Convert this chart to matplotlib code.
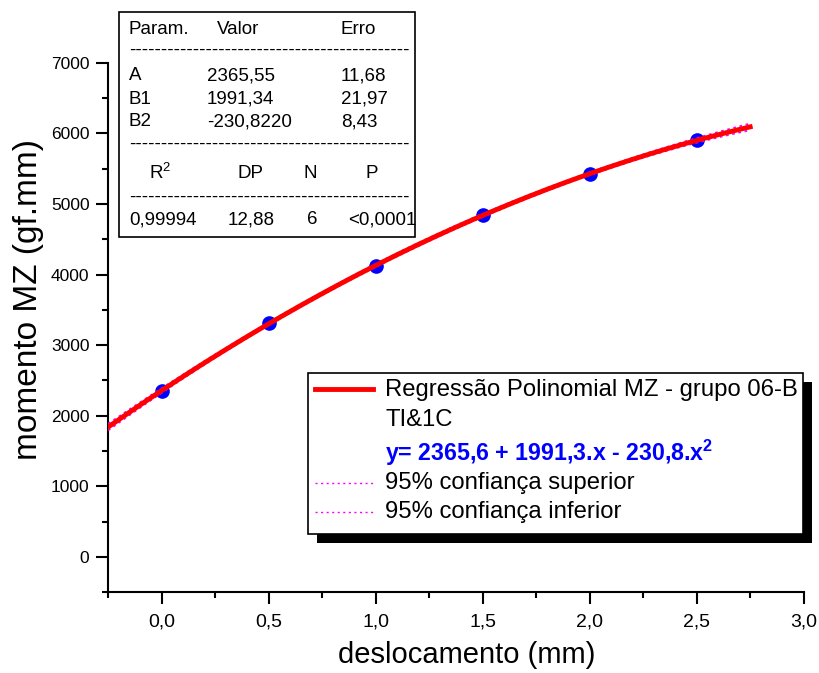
import numpy as np
import matplotlib
matplotlib.use("Agg")
import matplotlib.pyplot as plt
from matplotlib.patches import Rectangle
from matplotlib.ticker import MultipleLocator, FuncFormatter

# ---------------- data ----------------
x_data = [0.0, 0.5, 1.0, 1.5, 2.0, 2.5]
y_data = [2350, 3318, 4123, 4837, 5422, 5904]

fit_x_range = [-0.25, 2.75]

table_params = ["A", "B1", "B2"]
table_values = ["2365,55", "1991,34", "-230,8220"]
table_errors = ["11,68", "21,97", "8,43"]
stat_headers = ["R$^{2}$", "DP", "N", "P"]
stat_values = ["0,99994", "12,88", "6", "<0,0001"]

legend_fit = "Regressão Polinomial MZ - grupo 06-B"
legend_fit2 = "TI&1C"
legend_eq = r"y= 2365,6 + 1991,3.x - 230,8.x$^{\mathbf{2}}$"
legend_up = "95% confiança superior"
legend_lo = "95% confiança inferior"

x_label = "deslocamento (mm)"
y_label = "momento MZ (gf.mm)"

# ---------------- style ----------------
SANS = "Liberation Sans"
plt.rcParams["font.family"] = [SANS, "DejaVu Sans"]
plt.rcParams["mathtext.fontset"] = "custom"
plt.rcParams["mathtext.rm"] = SANS
plt.rcParams["mathtext.bf"] = SANS + ":bold"
plt.rcParams["mathtext.it"] = SANS + ":italic"

W, H = 819, 673
fig = plt.figure(figsize=(W / 100, H / 100), dpi=100)

def fx(px):
    return px / W

def fy(py):
    return 1 - py / H

ax = fig.add_axes([fx(108.2), fy(592.3), fx(803.7) - fx(108.2), fy(62.7) - fy(592.3)])
ax.set_xlim(-0.25, 3.0)
ax.set_ylim(-500, 7000)
for s in ["top", "right"]:
    ax.spines[s].set_visible(False)
for s in ["left", "bottom"]:
    ax.spines[s].set_linewidth(1.5)
ax.xaxis.set_major_locator(MultipleLocator(0.5))
ax.xaxis.set_minor_locator(MultipleLocator(0.25))
ax.yaxis.set_major_locator(MultipleLocator(1000))
ax.yaxis.set_minor_locator(MultipleLocator(500))
ax.xaxis.set_major_formatter(FuncFormatter(lambda v, p: f"{v:.1f}".replace(".", ",")))
ax.yaxis.set_major_formatter(FuncFormatter(lambda v, p: f"{v:.0f}"))
ax.tick_params(which="major", direction="out", length=8.5, width=1.5)
ax.tick_params(which="minor", direction="out", length=4.5, width=1.5)
ax.tick_params(axis="y", which="major", labelsize=12.5, pad=5)
ax.tick_params(axis="x", which="major", labelsize=14, pad=7)

# ---------------- fit ----------------
xd = np.array(x_data)
yd = np.array(y_data, dtype=float)
coef = np.polyfit(xd, yd, 2)
xf = np.linspace(fit_x_range[0], fit_x_range[1], 300)
yf = np.polyval(coef, xf)
# 95% confidence band of the mean
X = np.vander(xd, 3)
res = yd - np.polyval(coef, xd)
dof = len(xd) - 3
s2 = np.sum(res ** 2) / dof
cov = s2 * np.linalg.inv(X.T @ X)
Xf = np.vander(xf, 3)
se = np.sqrt(np.einsum("ij,jk,ik->i", Xf, cov, Xf))
tval = 3.182
ax.plot(xf, yf + tval * se, color="#FF00FF", lw=1.3, ls=(0, (1.5, 2)), zorder=3)
ax.plot(xf, yf - tval * se, color="#FF00FF", lw=1.3, ls=(0, (1.5, 2)), zorder=3)
ax.plot(xd, yd, "o", color="#0000FF", ms=9.5, zorder=2)
ax.plot(xf, yf, color="#FF0000", lw=3.5, zorder=4)

fig.text(fx(467), fy(655), x_label, fontsize=21, ha="center", va="center")
fig.text(fx(29), fy(300), y_label, fontsize=24, ha="center", va="center", rotation=90)

# ---------------- parameter table ----------------
fig.add_artist(Rectangle((fx(119), fy(237)), fx(415) - fx(119), fy(12) - fy(237),
                         transform=fig.transFigure, fill=True, facecolor="white",
                         edgecolor="black", lw=1.2, zorder=5))
tfs = 13.5
def ttext(px, py, s, ha="left"):
    fig.text(fx(px), fy(py), s, fontsize=tfs, ha=ha, va="center", zorder=6)

ttext(129, 29, "Param.")
ttext(217, 29, "Valor")
ttext(340, 29, "Erro")
dash = "-" * 44
ttext(129, 50, dash)
rows_y = [76, 99, 122]
for py, p, v, e in zip(rows_y, table_params, table_values, table_errors):
    ttext(129, py, p)
    ttext(207, py, v)
    ttext(341, py, e)
ttext(129, 144, dash)
for px, h in zip([160, 250, 310, 372], stat_headers):
    ttext(px, 173, h, ha="center")
ttext(129, 197, dash)
ttext(129, 220, stat_values[0])
ttext(228, 220, stat_values[1])
ttext(307, 220, stat_values[2])
ttext(348, 220, stat_values[3])

# ---------------- legend box ----------------
fig.add_artist(Rectangle((fx(317), fy(543)), fx(812) - fx(317), fy(382) - fy(543),
                         transform=fig.transFigure, facecolor="black", edgecolor="black",
                         lw=0, zorder=5))
fig.add_artist(Rectangle((fx(308), fy(534)), fx(803) - fx(308), fy(373) - fy(534),
                         transform=fig.transFigure, facecolor="white", edgecolor="black",
                         lw=1.2, zorder=6))
lfs = 17.2
fig.add_artist(plt.Line2D([fx(315), fx(373)], [fy(389), fy(389)], transform=fig.transFigure,
                          color="#FF0000", lw=3.5, zorder=7))
for py in [483, 512]:
    fig.add_artist(plt.Line2D([fx(315), fx(373)], [fy(py), fy(py)], transform=fig.transFigure,
                              color="#FF00FF", lw=1.0, ls=(0, (1.5, 2.5)), zorder=7))
fig.text(fx(385), fy(390), legend_fit, fontsize=lfs, va="center", zorder=7)
fig.text(fx(385), fy(420), legend_fit2, fontsize=lfs, va="center", zorder=7)
fig.text(fx(385), fy(453), legend_eq, fontsize=16.7, fontweight="bold", color="#0000FF",
         va="center", zorder=7)
fig.text(fx(385), fy(483), legend_up, fontsize=lfs, va="center", zorder=7)
fig.text(fx(385), fy(512), legend_lo, fontsize=lfs, va="center", zorder=7)

fig.savefig("out.png", dpi=100)
